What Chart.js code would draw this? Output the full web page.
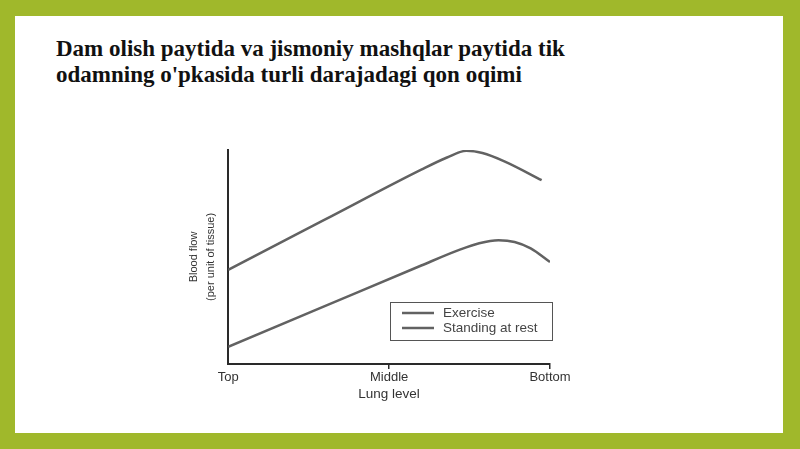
<!DOCTYPE html>
<html>
<head>
<meta charset="utf-8">
<script src="https://cdn.jsdelivr.net/npm/chart.js@4.4.1/dist/chart.umd.min.js"></script>
<style>
  html, body { margin: 0; padding: 0; }
  body { width: 800px; height: 449px; background: #a0b82b; position: relative; overflow: hidden; }
  .panel { position: absolute; left: 15px; top: 16px; width: 768px; height: 417px; background: #ffffff; }
  .title { position: absolute; left: 41px; top: 20px; font-family: "Liberation Serif", "Times New Roman", serif;
           font-weight: bold; font-size: 23px; line-height: 25.5px; color: #111; }
  canvas { position: absolute; left: 0; top: 0; }
</style>
</head>
<body>
<div class="panel">
  <div class="title">Dam olish paytida va jismoniy mashqlar paytida tik<br>odamning o'pkasida turli darajadagi qon oqimi</div>
  <canvas id="lungChart" width="768" height="417"></canvas>
</div>
<script>
// lung level: 0 = top, 50 = middle, 100 = bottom
const levelTicks = ['Top', 'Middle', 'Bottom'];

const exerciseX = [0, 30, 60, 68, 74, 79, 86, 97.4];
const exerciseY = [44, 67.4, 90.8, 96.5, 99.6, 98.6, 94.6, 85.9];

const restX = [0, 30, 60, 72, 78, 84, 89, 94, 100];
const restY = [8, 27, 46, 53.4, 56.4, 57.8, 57, 54, 47.6];

const seriesNames = ['Exercise', 'Standing at rest'];
const lineColor = '#626262';
const sans = '"Liberation Sans", Arial, sans-serif';

function toPoints(xs, ys) {
    return xs.map((x, i) => ({ x: x, y: ys[i] }));
}

// legend drawn as a framed box in the lower right of the plot
const boxLegend = {
    id: 'boxLegend',
    afterDraw(chart) {
        const ctx = chart.ctx;
        const area = chart.chartArea;
        const w = 162, h = 38;
        const left = area.right - w + 2;
        const top = area.top + 152;
        ctx.save();
        ctx.strokeStyle = '#555';
        ctx.lineWidth = 1;
        ctx.strokeRect(left + 0.5, top + 0.5, w, h);
        ctx.font = '13.5px ' + sans;
        ctx.textBaseline = 'middle';
        chart.data.datasets.forEach((ds, i) => {
            const y = top + 11 + i * 15;
            ctx.strokeStyle = ds.borderColor;
            ctx.lineWidth = 2.5;
            ctx.beginPath();
            ctx.moveTo(left + 12, y);
            ctx.lineTo(left + 44, y);
            ctx.stroke();
            ctx.fillStyle = '#444';
            ctx.fillText(ds.label, left + 53, y);
        });
        ctx.restore();
    }
};

const ctx = document.getElementById('lungChart').getContext('2d');

const lungChart = new Chart(ctx, {
    type: 'line',
    data: {
        datasets: [{
            label: seriesNames[0],
            data: toPoints(exerciseX, exerciseY),
            borderColor: lineColor,
            borderWidth: 2.5,
            pointRadius: 0,
            cubicInterpolationMode: 'monotone'
        }, {
            label: seriesNames[1],
            data: toPoints(restX, restY),
            borderColor: lineColor,
            borderWidth: 2.5,
            pointRadius: 0,
            cubicInterpolationMode: 'monotone'
        }]
    },
    options: {
        responsive: false,
        animation: false,
        layout: {
            padding: { left: 162, right: 233, top: 134, bottom: 28 }
        },
        plugins: {
            legend: { display: false },
            tooltip: { enabled: false }
        },
        scales: {
            x: {
                type: 'linear',
                min: 0,
                max: 100,
                border: { display: true, color: '#2a2a2a', width: 2 },
                grid: {
                    drawOnChartArea: false,
                    tickLength: 5,
                    color: (c) => c.index === 0 ? 'rgba(0,0,0,0)' : '#2a2a2a',
                    lineWidth: 1.5
                },
                ticks: {
                    stepSize: 50,
                    padding: 1,
                    color: '#333',
                    font: { family: sans, size: 13 },
                    callback: (v) => levelTicks[v / 50]
                },
                title: {
                    display: true,
                    text: 'Lung level',
                    color: '#333',
                    padding: { top: 1, bottom: 4 },
                    font: { family: sans, size: 13.5, lineHeight: 1 }
                }
            },
            y: {
                min: 0,
                max: 100,
                border: { display: true, color: '#2a2a2a', width: 2 },
                grid: { display: false },
                ticks: { display: false },
                title: {
                    display: true,
                    text: ['Blood flow', '(per unit of tissue)'],
                    color: '#333',
                    padding: { top: 8, bottom: 0 },
                    font: { family: '"Liberation Sans Narrow", ' + sans, size: 11, lineHeight: 1.6 }
                }
            }
        }
    },
    plugins: [boxLegend]
});
</script>
</body>
</html>
